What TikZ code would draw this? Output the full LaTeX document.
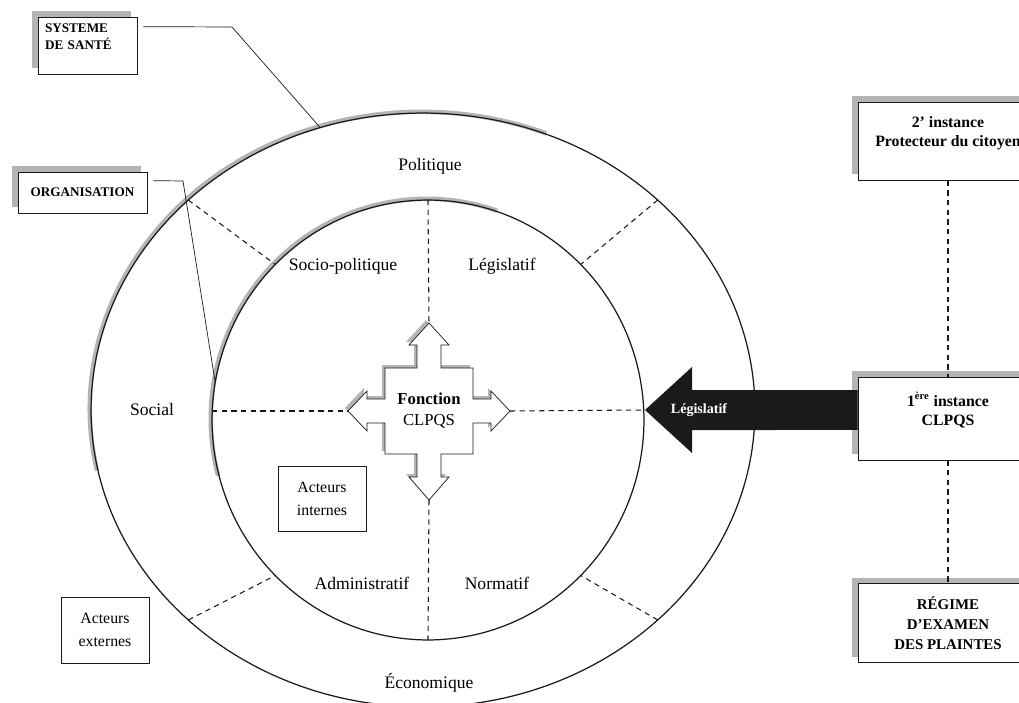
\documentclass[tikz,border=0pt]{standalone}
\usepackage{fontspec}
\setmainfont{Liberation Serif}
\usetikzlibrary{positioning,shapes.geometric,shadows,backgrounds}
\definecolor{cshadow}{HTML}{B4B4B4}
\definecolor{cline}{HTML}{1A1A1A}

\begin{document}
\begin{tikzpicture}[
    x=0.02cm, y=-0.02cm,
    ring/.style={draw=cline, ellipse, inner sep=0pt, outer sep=0pt, line width=0.7pt},
    band/.style={cshadow, line width=0.09cm},
    ringlabel/.style={font=\fontsize{10}{12}\selectfont},
    box/.style={draw=cline, align=center, inner sep=2pt, thin, font=\fontsize{9}{13}\selectfont},
    headbox/.style={box, fill=white, font=\fontsize{9}{11}\selectfont\bfseries,
        drop shadow={shadow xshift=-0.12cm, shadow yshift=0.12cm, fill=cshadow, opacity=1}},
    sep/.style={cline, line width=0.6pt, dash pattern=on 3pt off 2.5pt},
    leader/.style={cline, thin},
]
\useasboundingbox (0,0) rectangle (1019,703);

% the two rings
\node[ring, minimum width=13.28cm, minimum height=11.88cm] (outer) at (423,410) {};
\node[ring, minimum width=8.64cm, minimum height=8.8cm] (inner) at (428,420) {};

% grey edge on the upper left of both rings
\begin{scope}[on background layer]
\draw[band] ([shift={(-1.2,-1.2)}]outer.center) ++(168:332 and 297)
    arc[start angle=168, end angle=292, x radius=332, y radius=297];
\draw[band] ([shift={(-1.2,-1.2)}]inner.center) ++(165:216 and 220)
    arc[start angle=165, end angle=289, x radius=216, y radius=220];
\end{scope}

% radial separators of the outer ring
\foreach \a in {north west, north east, south east, south west}
    \draw[sep] (outer.\a) -- (inner.\a);

% ring labels
\node[ringlabel] (politique) at (430,166) {Politique};
\node[ringlabel] (social) at (152,409) {Social};
\node[ringlabel] (economique) at (429,683) {Économique};
\node[ringlabel] (sociopol) at (343,266) {Socio-politique};
\node[ringlabel] (legisl) at (502,266) {Législatif};
\node[ringlabel] (admin) at (362,583) {Administratif};
\node[ringlabel] (normatif) at (497,583) {Normatif};

% four-way arrow in the centre
\coordinate (fc) at (429,411);
\begin{scope}[shift={(fc)}]
\foreach \d/\c/\e in {-3/cshadow/none, 0/white/cline}
    \filldraw[fill=\c, draw=\e, thin, shift={(\d,\d)}]
        (0,-88) -- (20,-66) -- (12,-66) -- (12,-43) -- (44,-43) -- (44,-12)
        -- (62,-12) -- (62,-20) -- (81,0) -- (62,20) -- (62,12) -- (44,12)
        -- (44,43) -- (12,43) -- (12,66) -- (20,66) -- (0,89) -- (-20,66)
        -- (-12,66) -- (-12,43) -- (-44,43) -- (-44,12) -- (-62,12) -- (-62,20)
        -- (-81,0) -- (-62,-20) -- (-62,-12) -- (-44,-12) -- (-44,-43) -- (-12,-43)
        -- (-12,-66) -- (-20,-66) -- cycle;
\end{scope}
\node[font=\fontsize{9.5}{12}\selectfont, align=center] (fonction) at (fc) {\textbf{Fonction}\\CLPQS};
\path (fc) ++(0,-88) coordinate (fup)
      (fc) ++(0,89)  coordinate (fdown)
      (fc) ++(-81,0) coordinate (fleft)
      (fc) ++(81,0)  coordinate (fright);

% actor boxes
\node[box, minimum width=1.76cm, minimum height=1.3cm] (internes) at (322,499) {Acteurs\\internes};
\node[box, minimum width=1.76cm, minimum height=1.32cm] (externes) at (105,630) {Acteurs\\externes};

% left labels
\node[headbox, align=left, font=\fontsize{7.5}{10}\selectfont\bfseries,
      minimum width=1.98cm, minimum height=1.14cm, text width=1.7cm] (sys) at (87.5,45.5)
      {SYSTEME\\DE SANTÉ\\\mbox{}};
\node[headbox, font=\fontsize{7.5}{9}\selectfont\bfseries,
      minimum width=2.58cm, minimum height=0.82cm] (org) at (82.5,192.5) {ORGANISATION};

% right column
\node[headbox, minimum width=3.6cm, minimum height=1.66cm] (inst1) at (948,418.5)
      {1\textsuperscript{ère} instance\\CLPQS\\\mbox{}};
\node[headbox, minimum width=3.6cm, minimum height=1.56cm, above=3.92cm of inst1] (inst2)
      {2' instance\\Protecteur du citoyen\\\mbox{}};
\node[headbox, font=\fontsize{8.5}{11.4}\selectfont\bfseries,
      minimum width=3.6cm, minimum height=1.58cm, below=2.46cm of inst1] (regime)
      {RÉGIME\\D'EXAMEN\\DES PLAINTES};

% big arrow into the rings
\coordinate (legtip) at (645,410);
\coordinate (shaftend) at (legtip -| inst1.west);
\fill[cline] (legtip) -- (692,367) -- (692,390) -- ([yshift=0.4cm]shaftend)
    -- ([yshift=-0.4cm]shaftend) -- (692,430) -- (692,453) -- cycle;
\node[text=white, font=\fontsize{8}{10}\selectfont\bfseries] (legarrow) at (699,410) {Législatif};

% dashed links
\draw[sep] (inner.north) -- (fup);
\draw[sep] (fdown) -- (inner.south);
\draw[sep] (fleft -| inner.west) -- (fleft);
\draw[sep] (fright) -- (legtip);
\draw[sep] (inst2.south) -- (inst1.north);
\draw[sep] (inst1.south) -- (regime.north);

% leader lines
\coordinate (sysbend) at (232,27);
\draw[leader] ([xshift=0.12cm, yshift=-0.2cm]sys.north east) -- (sysbend) -- (outer.110);
\coordinate (orgbend) at (183,181);
\draw[leader] ([xshift=0.12cm, yshift=-0.18cm]org.north east) -- (orgbend) -- (inner.170);

\end{tikzpicture}
\end{document}
